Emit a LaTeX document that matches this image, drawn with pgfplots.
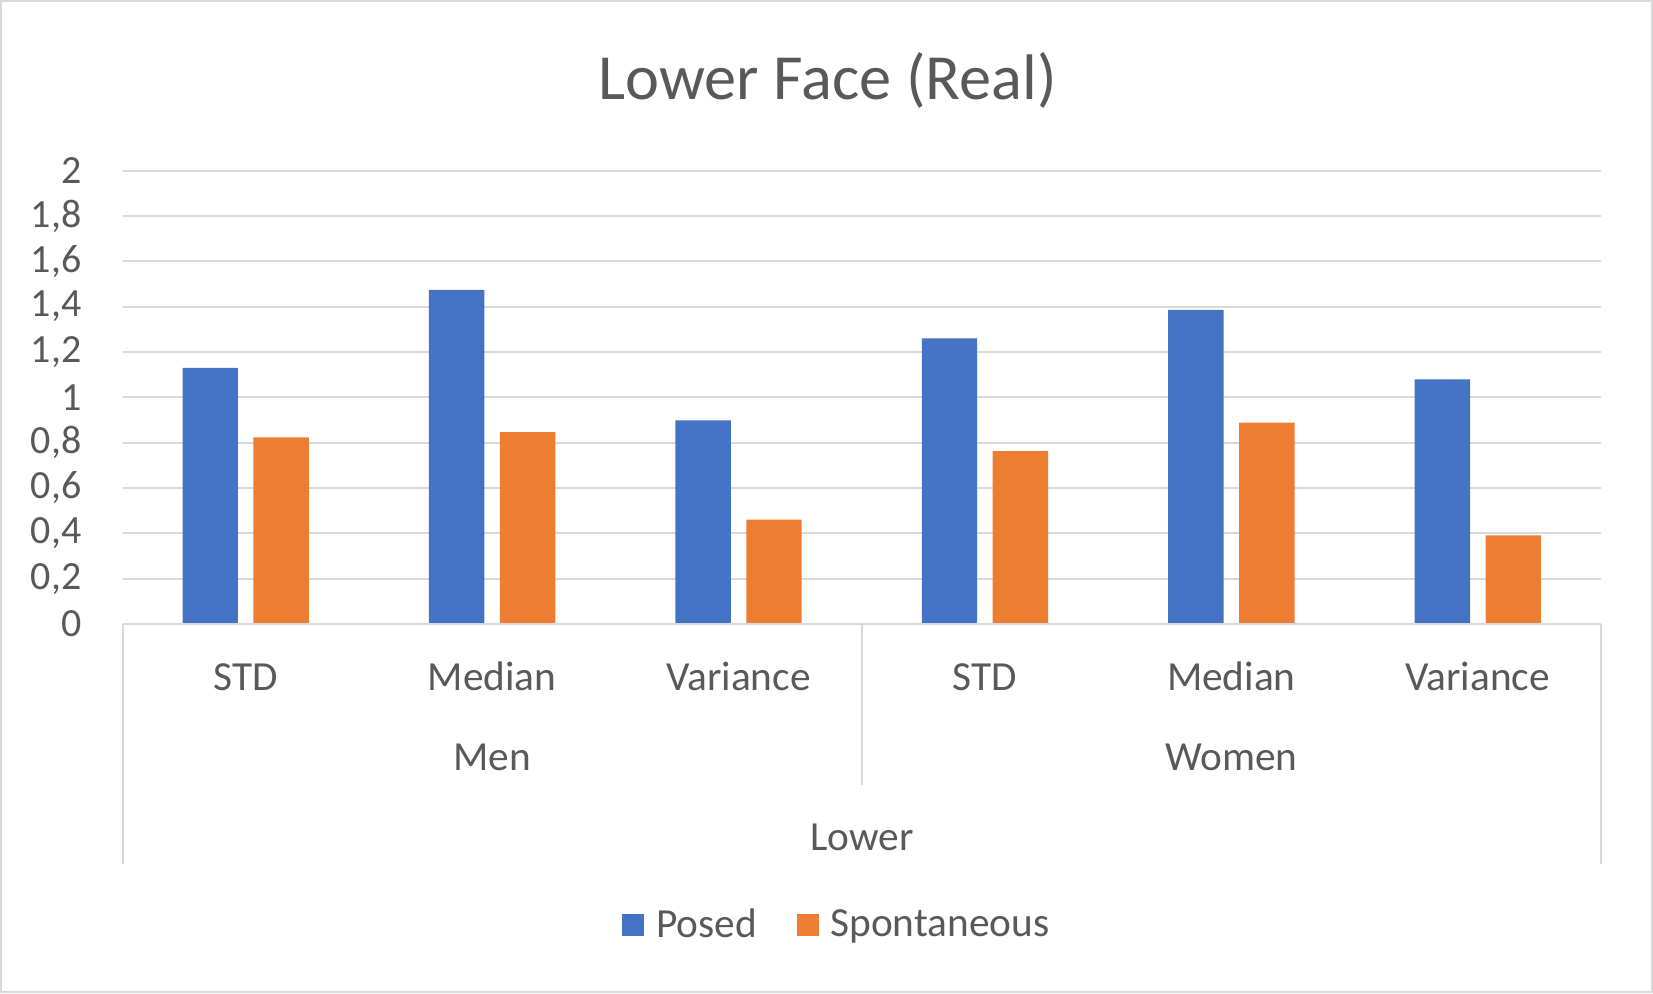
\documentclass[border=0pt]{standalone}
\usepackage{fontspec}
\setmainfont{Carlito}
\usepackage{pgfplots}
\pgfplotsset{compat=1.18}
\definecolor{posed}{HTML}{4472C4}
\definecolor{spont}{HTML}{ED7D31}
\definecolor{txt}{HTML}{595959}
\definecolor{gridc}{HTML}{D9D9D9}
\begin{document}
\begin{tikzpicture}
\useasboundingbox (0pt,0pt) rectangle (495.9pt,297.9pt);
\draw[gridc, line width=0.6pt] (0.3pt,0.3pt) rectangle (495.6pt,297.6pt);
\node[txt, anchor=base, inner sep=0pt, font=\fontsize{19.3}{23}\selectfont] at (248.25pt,268pt) {Lower Face (Real)};
\begin{axis}[
  at={(36.75pt,110.7pt)}, anchor=south west,
  scale only axis, width=443.55pt, height=136pt,
  xmin=-0.5, xmax=5.5, ymin=0, ymax=2,
  ybar, bar width=0.225,
  xtick={0,1,2,3,4,5},
  xticklabels={STD,Median,Variance,STD,Median,Variance},
  ytick={0,0.2,0.4,0.6,0.8,1,1.2,1.4,1.6,1.8,2},
  major tick length=0pt,
  ymajorgrids, grid style={gridc, line width=0.6pt},
  axis line style={draw=none},
  tick label style={text=txt},
  yticklabel style={font=\fontsize{12}{14}\selectfont, anchor=east, inner sep=0pt, xshift=-12.1pt},
  xticklabel style={font=\fontsize{12.4}{15}\selectfont, anchor=base, inner sep=0pt, yshift=-19.8pt},
  legend columns=2,
  legend style={at={(0.4866,-0.6646)}, anchor=center, draw=none, fill=none,
    font=\fontsize{12.4}{15}\selectfont, text=txt,
    nodes={inner xsep=3.6pt},
    /tikz/every even column/.append style={column sep=8.2pt}},
  legend image code/.code={\fill[#1] (0pt,-3.3pt) rectangle (6.6pt,3.3pt);},
  /pgf/number format/use comma,
  /pgf/number format/assume math mode=true,
]
\addplot[fill=posed, draw=none, bar shift=-0.144] coordinates {(0,1.130) (1,1.474) (2,0.898) (3,1.260) (4,1.386) (5,1.079)};
\addplot[fill=spont, draw=none, bar shift=0.144] coordinates {(0,0.823) (1,0.847) (2,0.460) (3,0.763) (4,0.888) (5,0.391)};
\legend{Posed, Spontaneous}
\end{axis}
\draw[gridc, line width=0.6pt] (36.75pt,110.7pt) -- (480.3pt,110.7pt);
\draw[gridc, line width=0.6pt] (36.75pt,110.7pt) -- (36.75pt,38.7pt);
\draw[gridc, line width=0.6pt] (258.54pt,110.7pt) -- (258.54pt,62.4pt);
\draw[gridc, line width=0.6pt] (480.3pt,110.7pt) -- (480.3pt,38.7pt);
\node[txt, anchor=base, inner sep=0pt, font=\fontsize{12.4}{15}\selectfont] at (147.6pt,66.9pt) {Men};
\node[txt, anchor=base, inner sep=0pt, font=\fontsize{12.4}{15}\selectfont] at (369.42pt,66.9pt) {Women};
\node[txt, anchor=base, inner sep=0pt, font=\fontsize{12.4}{15}\selectfont] at (258.54pt,42.9pt) {Lower};
\end{tikzpicture}
\end{document}
